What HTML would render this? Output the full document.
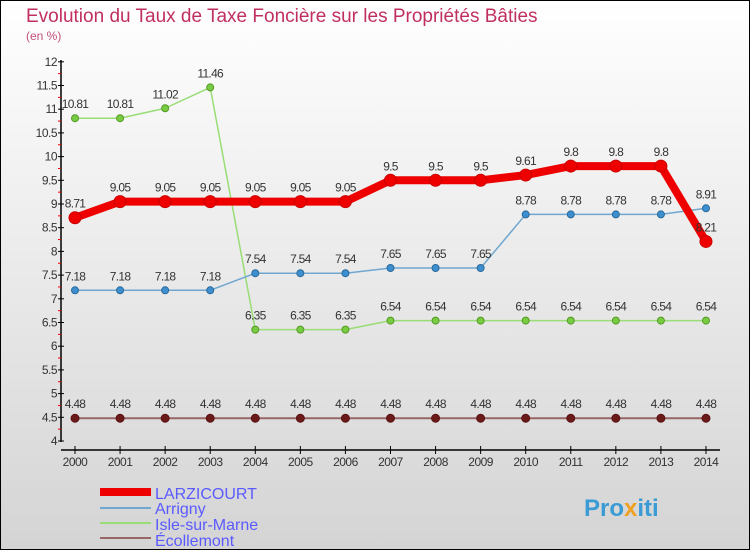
<!DOCTYPE html>
<html><head><meta charset="utf-8"><style>
body{margin:0}
#c{width:750px;height:550px;position:relative;font-family:"Liberation Sans",sans-serif}
</style></head><body>
<div id="c">
<svg id="s" width="750" height="550" xmlns="http://www.w3.org/2000/svg">
<defs><linearGradient id="bg" x1="0" y1="0" x2="0" y2="1"><stop offset="0" stop-color="#ffffff"/><stop offset="1" stop-color="#d4d4d4"/></linearGradient></defs>
<rect x="0.5" y="0.5" width="749" height="549" fill="url(#bg)" stroke="#000"/>
<text x="26" y="22" font-size="19" fill="#c0305e">Evolution du Taux de Taxe Foncière sur les Propriétés Bâties</text>
<text x="26" y="40" font-size="12" fill="#c0507a">(en %)</text>
<g id="axes"></g><g id="series"></g>
<g>
<line x1="100" y1="492" x2="151" y2="492" stroke="#e00" stroke-width="8"/>
<text x="155" y="499" font-size="16" fill="#5a5aff">LARZICOURT</text>
<line x1="100" y1="508" x2="151" y2="508" stroke="#6fa7d0" stroke-width="2"/>
<text x="155" y="514" font-size="16" fill="#5a5aff">Arrigny</text>
<line x1="100" y1="523" x2="151" y2="523" stroke="#99dd77" stroke-width="2"/>
<text x="155" y="530" font-size="16" fill="#5a5aff">Isle-sur-Marne</text>
<line x1="100" y1="538" x2="151" y2="538" stroke="#996666" stroke-width="2"/>
<text x="155" y="546" font-size="16" fill="#5a5aff">Écollemont</text>
</g>
<text x="584" y="516" font-size="24" font-weight="bold" fill="#3a9bd5">Pro<tspan fill="#f0a020">x</tspan>iti</text>
</svg></div>
<script>
const years=[2000,2001,2002,2003,2004,2005,2006,2007,2008,2009,2010,2011,2012,2013,2014];
const larzicourt=[8.71,9.05,9.05,9.05,9.05,9.05,9.05,9.5,9.5,9.5,9.61,9.8,9.8,9.8,8.21];
const arrigny=[7.18,7.18,7.18,7.18,7.54,7.54,7.54,7.65,7.65,7.65,8.78,8.78,8.78,8.78,8.91];
const isle=[10.81,10.81,11.02,11.46,6.35,6.35,6.35,6.54,6.54,6.54,6.54,6.54,6.54,6.54,6.54];
const ecollemont=[4.48,4.48,4.48,4.48,4.48,4.48,4.48,4.48,4.48,4.48,4.48,4.48,4.48,4.48,4.48];
const yTicks=[4,4.5,5,5.5,6,6.5,7,7.5,8,8.5,9,9.5,10,10.5,11,11.5,12];
const NS="http://www.w3.org/2000/svg";
const X=i=>75+i*45.07, Y=v=>441-(v-4)*47.4;
function mk(t,a,p){const e=document.createElementNS(NS,t);for(const k in a)e.setAttribute(k,a[k]);p.appendChild(e);return e;}
const ax=document.getElementById('axes');
let l=mk('line',{x1:61,y1:60,x2:61,y2:442,stroke:'#000','stroke-width':1.5},ax);


l=mk('line',{x1:61,y1:450,x2:720,y2:450,stroke:'#000','stroke-width':1.5},ax);


yTicks.forEach((v,i)=>{
  mk('line',{x1:58,x2:64,y1:Y(v),y2:Y(v),stroke:'#000'},ax);
  if(i<yTicks.length-1)mk('line',{x1:58,x2:61,y1:Y(v+0.25),y2:Y(v+0.25),stroke:'#e00'},ax);
  const t=mk('text',{x:57,y:Y(v)+4,'font-size':12,fill:'#333','text-anchor':'end','letter-spacing':'-0.5'},ax);
  t.textContent=String(v);
  
  
});
years.forEach((y,i)=>{
  mk('line',{x1:X(i),x2:X(i),y1:446,y2:454,stroke:'#000'},ax);
  const t=mk('text',{x:X(i),y:466,'font-size':12,fill:'#333','text-anchor':'middle','letter-spacing':'-0.5'},ax);
  t.textContent=y;
  
  
});
const sg=document.getElementById('series');
function series(vals,name,color,w,r,dot,dotStroke){
  const g=mk('g',{},sg);
  
  
  const p=mk('polyline',{points:vals.map((v,i)=>X(i)+','+Y(v)).join(' '),fill:'none',stroke:color,'stroke-width':w,'stroke-linejoin':'round'},g);
  
  
  vals.forEach((v,i)=>{
    const c=mk('circle',{cx:X(i),cy:Y(v),r:r,fill:dot,stroke:dotStroke,'stroke-width':1},g);
    
    
    const t=mk('text',{x:X(i),y:Y(v)-10,'font-size':12,fill:'#333','text-anchor':'middle','letter-spacing':'-0.7'},g);
    t.textContent=String(v);
    
    
  });
}
series(ecollemont,'ecollemont','#996666',2,4,'#6b1a1a','#5a1010');
series(isle,'isle-sur-marne','#99dd77',1.5,3.5,'#77cc44','#559922');
series(arrigny,'arrigny','#6fa7d0',1.5,3.5,'#3d8fd0','#2a6a9a');
series(larzicourt,'larzicourt','#ee0000',8,6,'#ee0000','#cc0000');
</script>
</body></html>
